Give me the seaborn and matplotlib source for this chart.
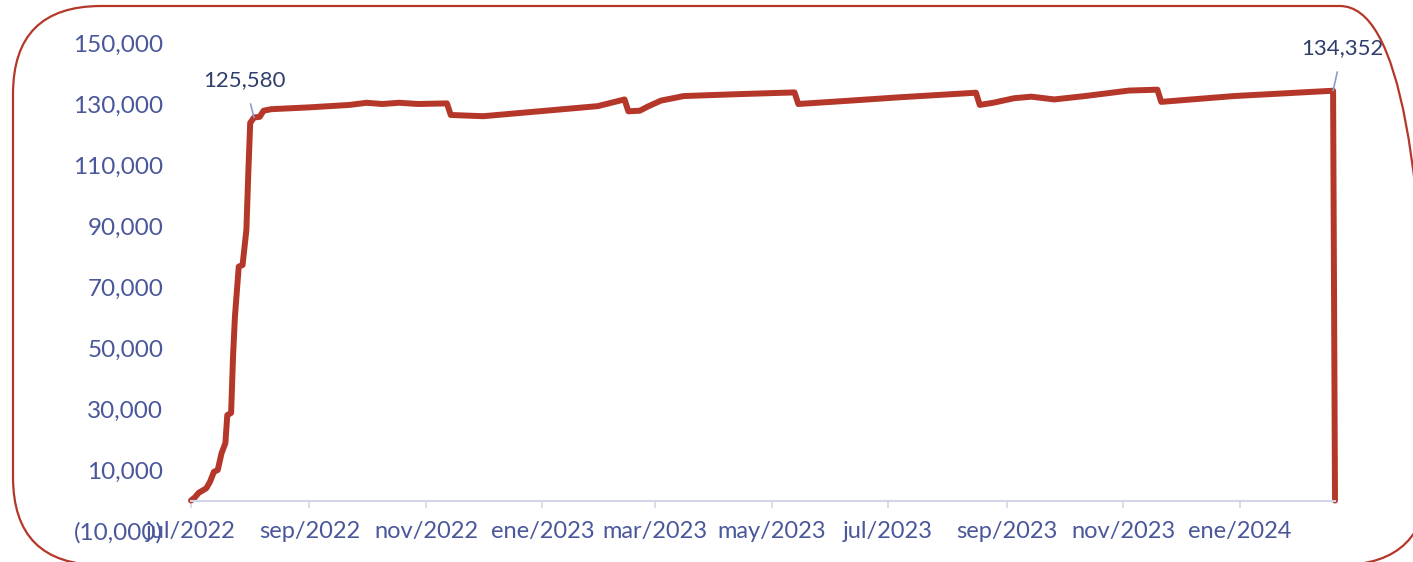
import matplotlib
matplotlib.use("Agg")
import matplotlib.pyplot as plt
from matplotlib.patches import FancyBboxPatch
from matplotlib.transforms import IdentityTransform
from matplotlib.ticker import FuncFormatter
import pandas as pd
import seaborn as sns

# === Datos ===
fechas = [
    "2022-07-01", "2022-07-03", "2022-07-05", "2022-07-09", "2022-07-11",
    "2022-07-13", "2022-07-15", "2022-07-17", "2022-07-19", "2022-07-20",
    "2022-07-22", "2022-07-23", "2022-07-24", "2022-07-26", "2022-07-28",
    "2022-07-30", "2022-07-31", "2022-08-01", "2022-08-03", "2022-08-06",
    "2022-08-08", "2022-08-12", "2022-09-01", "2022-09-22", "2022-10-01",
    "2022-10-09", "2022-10-18", "2022-10-28", "2022-11-12", "2022-11-14",
    "2022-12-01", "2023-01-01", "2023-01-30", "2023-02-13", "2023-02-15",
    "2023-02-21", "2023-02-25", "2023-03-04", "2023-03-16", "2023-04-12",
    "2023-05-13", "2023-05-15", "2023-06-11", "2023-07-07", "2023-08-16",
    "2023-08-18", "2023-08-25", "2023-09-05", "2023-09-14", "2023-09-26",
    "2023-10-12", "2023-11-04", "2023-11-19", "2023-11-21", "2023-12-29",
    "2024-02-19", "2024-02-20",
]
valores = [
    0, 1000, 2500, 4000, 6200,
    9400, 10000, 15500, 18800, 28000,
    28700, 47000, 60300, 76700, 77200,
    88700, 107400, 123800, 125580, 125800,
    127800, 128300, 128900, 129700, 130400,
    130000, 130400, 130000, 130200, 126400,
    126000, 127700, 129300, 131500, 127600,
    127800, 129100, 131100, 132600, 133200,
    133800, 130000, 131100, 132200, 133700,
    129700, 130400, 131900, 132400, 131500,
    132600, 134400, 134700, 130700, 132600,
    134352, 0,
]

ticks_x = ["2022-07-01", "2022-09-01", "2022-11-01", "2023-01-01", "2023-03-01",
           "2023-05-01", "2023-07-01", "2023-09-01", "2023-11-01", "2024-01-01"]
etiquetas_x = ["jul/2022", "sep/2022", "nov/2022", "ene/2023", "mar/2023",
               "may/2023", "jul/2023", "sep/2023", "nov/2023", "ene/2024"]
ticks_y = [-10000, 10000, 30000, 50000, 70000, 90000, 110000, 130000, 150000]

# anotaciones: (fecha del punto, valor)
anot_1 = ("2022-08-03", 125580)
anot_2 = ("2024-02-19", 134352)

ROJO = "#B5372A"
AZUL = "#4A579A"
AZUL_OSC = "#2F3D6B"
GUIA = "#8C9BD0"

df = pd.DataFrame({"fecha": pd.to_datetime(fechas), "valor": valores})

sns.set_theme(style="white")
plt.rcParams["font.family"] = ["Lato", "DejaVu Sans"]

fig = plt.figure(figsize=(14.13, 5.62), dpi=100)
ax = fig.add_axes([191 / 1413, 31 / 562, 1144 / 1413, 488 / 562])

sns.lineplot(data=df, x="fecha", y="valor", ax=ax, color=ROJO, linewidth=4.3,
             solid_joinstyle="round", solid_capstyle="round", clip_on=False)

ax.set_xlim(pd.Timestamp("2022-07-01"), pd.Timestamp("2024-02-20"))
ax.set_ylim(-10000, 150000)

ax.set_xticks(pd.to_datetime(ticks_x))
ax.set_xticklabels(etiquetas_x)
ax.set_yticks(ticks_y)
ax.yaxis.set_major_formatter(FuncFormatter(
    lambda v, p: f"({abs(v):,.0f})" if v < 0 else f"{v:,.0f}"))

for s in ["top", "right", "left"]:
    ax.spines[s].set_visible(False)
ax.spines["bottom"].set_position(("data", 0))
ax.spines["bottom"].set_color("#D3D6E8")
ax.spines["bottom"].set_linewidth(1.5)

ax.tick_params(axis="x", colors="#D3D6E8", labelcolor=AZUL, labelsize=17,
               length=5, width=1.2, direction="out", pad=10, bottom=True)
ax.tick_params(axis="y", labelcolor=AZUL, labelsize=17.5, length=0, pad=20)
ax.set_xlabel("")
ax.set_ylabel("")

for (f, v), dx, ty in [(anot_1, -5, 137900), (anot_2, 5, 148400)]:
    ax.annotate(f"{v:,}", xy=(pd.Timestamp(f), v),
                xytext=(pd.Timestamp(f) + pd.Timedelta(days=dx), ty),
                ha="center", va="center", fontsize=16, color=AZUL_OSC,
                annotation_clip=False,
                arrowprops=dict(arrowstyle="-", color=GUIA, lw=1.2,
                                shrinkA=8, shrinkB=0))

marco = FancyBboxPatch((13, -3), 1415, 559,
                       boxstyle="round,pad=0,rounding_size=88",
                       transform=IdentityTransform(), fill=False,
                       edgecolor=ROJO, linewidth=1.6, clip_on=False)
fig.add_artist(marco)

fig.savefig("out.png", dpi=100)
